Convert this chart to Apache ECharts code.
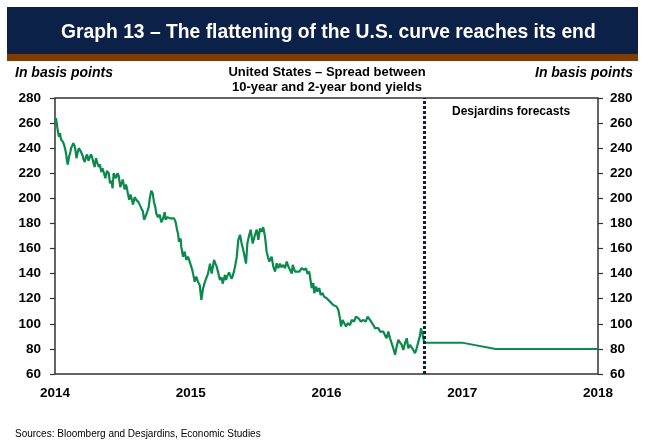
<!DOCTYPE html>
<html>
<head>
<meta charset="utf-8">
<script src="https://cdn.jsdelivr.net/npm/echarts@6/dist/echarts.min.js"></script>
<style>
  html, body { margin: 0; padding: 0; background: #fff; }
  #chart { width: 645px; height: 440px; }
</style>
</head>
<body>
<div id="chart"></div>
<script>
// US 10-year minus 2-year Treasury spread, basis points (time as decimal year)
const spreadYears = [
  2014.000, 2014.007, 2014.015, 2014.022, 2014.029, 2014.037, 2014.044, 2014.052, 2014.059, 2014.066,
  2014.074, 2014.081, 2014.088, 2014.094, 2014.103, 2014.113, 2014.118, 2014.125, 2014.135, 2014.144,
  2014.151, 2014.158, 2014.166, 2014.175, 2014.184, 2014.192, 2014.204, 2014.211, 2014.219, 2014.228,
  2014.236, 2014.247, 2014.253, 2014.265, 2014.273, 2014.284, 2014.292, 2014.302, 2014.313, 2014.322,
  2014.331, 2014.341, 2014.350, 2014.359, 2014.371, 2014.383, 2014.396, 2014.405, 2014.415, 2014.424,
  2014.432, 2014.442, 2014.449, 2014.460, 2014.469, 2014.481, 2014.490, 2014.499, 2014.508, 2014.513,
  2014.523, 2014.530, 2014.538, 2014.547, 2014.556, 2014.562, 2014.575, 2014.587, 2014.597, 2014.606,
  2014.615, 2014.624, 2014.636, 2014.648, 2014.656, 2014.665, 2014.680, 2014.690, 2014.698, 2014.709,
  2014.720, 2014.729, 2014.739, 2014.746, 2014.759, 2014.771, 2014.783, 2014.796, 2014.808, 2014.815,
  2014.827, 2014.838, 2014.852, 2014.864, 2014.877, 2014.889, 2014.899, 2014.906, 2014.913, 2014.926,
  2014.930, 2014.943, 2014.955, 2014.967, 2014.980, 2014.992, 2015.004, 2015.011, 2015.019, 2015.029,
  2015.041, 2015.053, 2015.066, 2015.078, 2015.090, 2015.103, 2015.117, 2015.127, 2015.142, 2015.154,
  2015.164, 2015.171, 2015.182, 2015.191, 2015.204, 2015.215, 2015.227, 2015.235, 2015.245, 2015.252,
  2015.260, 2015.269, 2015.282, 2015.289, 2015.300, 2015.309, 2015.319, 2015.326, 2015.339, 2015.350,
  2015.363, 2015.375, 2015.387, 2015.396, 2015.407, 2015.417, 2015.431, 2015.442, 2015.456, 2015.466,
  2015.473, 2015.486, 2015.498, 2015.510, 2015.523, 2015.534, 2015.547, 2015.559, 2015.569, 2015.579,
  2015.596, 2015.608, 2015.621, 2015.633, 2015.645, 2015.657, 2015.668, 2015.682, 2015.694, 2015.707,
  2015.719, 2015.731, 2015.744, 2015.751, 2015.761, 2015.768, 2015.780, 2015.800, 2015.817, 2015.834,
  2015.849, 2015.859, 2015.873, 2015.884, 2015.891, 2015.903, 2015.910, 2015.923, 2015.932, 2015.947,
  2015.957, 2015.972, 2015.982, 2016.001, 2016.013, 2016.026, 2016.038, 2016.050, 2016.063, 2016.075,
  2016.087, 2016.099, 2016.107, 2016.119, 2016.131, 2016.144, 2016.156, 2016.173, 2016.186, 2016.203,
  2016.217, 2016.234, 2016.247, 2016.254, 2016.271, 2016.289, 2016.303, 2016.313, 2016.320, 2016.333,
  2016.345, 2016.357, 2016.370, 2016.382, 2016.394, 2016.407, 2016.419, 2016.431, 2016.443, 2016.455,
  2016.468, 2016.480, 2016.492, 2016.505, 2016.517, 2016.529, 2016.541, 2016.554, 2016.566, 2016.578,
  2016.591, 2016.603, 2016.615, 2016.628, 2016.639, 2016.652, 2016.664, 2016.676, 2016.689, 2016.696,
  2016.709, 2016.718
];
const spreadValues = [
  262, 264, 258, 253, 249, 252, 247, 246, 245, 244,
  240, 236, 230, 227, 233, 237, 240, 241, 244, 242,
  238, 232, 236, 240, 241, 237, 234, 231, 229, 233,
  235, 230, 232, 235, 233, 228, 225, 232, 228, 225,
  227, 221, 224, 225, 216, 222, 220, 212, 214, 208,
  220, 218, 216, 220, 218, 209, 212, 215, 210, 207,
  211, 208, 203, 199, 203, 201, 195, 201, 199, 200,
  197, 196, 192, 189.5, 183, 185, 189.5, 193, 200, 206,
  204, 197, 193, 188, 185, 187, 181, 184, 189, 183,
  185, 184, 184, 183, 184, 181, 175, 172, 165.5, 168,
  161.5, 153.5, 157.5, 151, 153.5, 149.6, 151, 143, 139, 133.6,
  137.6, 133.6, 131, 119, 128, 133, 132, 140, 148, 140,
  146, 151, 148, 145.6, 140, 135, 137, 132, 136, 139,
  135, 138, 141, 140, 136, 138, 142, 145.6, 153.5, 167,
  171, 164, 158.6, 154, 148, 164, 171, 175, 164, 168,
  171, 175, 167, 176, 173.5, 177, 169.5, 157.5, 153, 149.6,
  153.5, 145.6, 141.6, 148.3, 144.3, 148, 145, 147, 144.3, 149.6,
  145.6, 143, 140, 147, 145.6, 141.6, 143, 141.6, 144.3, 143,
  144.3, 140, 141.6, 133.6, 128.4, 132.4, 124.4, 129.7, 125.7, 128.4,
  123, 124.4, 121.7, 120.4, 121.7, 117.7, 119, 115, 116.4, 113.7,
  111, 104.5, 97.8, 103.1, 100.5, 97.8, 100.5, 99, 103.1, 101.8,
  105.8, 104.5, 105.8, 101.8, 103.1, 101.8, 105.8, 107.1, 103.1, 101.8,
  99, 96.5, 95.1, 96.5, 93.8, 95.1, 93.8, 90.8, 88.5, 93.8,
  88.5, 84.5, 80.5, 75.4, 81.8, 87.2, 88.5, 83.2, 79.2, 84.5,
  88.5, 80.5, 83.2, 81.8, 79.2, 76.6, 80.5, 81.8, 90.8, 96.5,
  90.8, 85.8
];

// Desjardins quarterly forecasts
const forecastYears = [2016.723, 2016.997, 2017.246, 2017.496, 2017.748, 2018.000];
const forecastValues = [85, 85, 80, 80, 80, 80];

// Boundary between history and forecasts
const forecastStart = 2016.723;

const yearTicks = [2014, 2015, 2016, 2017, 2018];
const yTicks = [60, 80, 100, 120, 140, 160, 180, 200, 220, 240, 260, 280];

const FONT = '"Liberation Sans", Arial, sans-serif';
const GREEN = '#0a8a4c';
const NAVY = '#0b2148';

const zip = (xs, ys) => xs.map((x, i) => [x, ys[i]]);

const yAxisCommon = {
  type: 'value',
  min: yTicks[0],
  max: yTicks[yTicks.length - 1],
  interval: yTicks[1] - yTicks[0],
  axisLine: { show: false },
  axisTick: { show: true, inside: false, length: 5, lineStyle: { color: '#333', width: 1.2 } },
  splitLine: { show: false },
  axisLabel: { color: '#000', fontFamily: FONT, fontWeight: 'bold', fontSize: 13.5, margin: 14 }
};

const chart = echarts.init(document.getElementById('chart'), null, { renderer: 'canvas' });

chart.setOption({
  animation: false,
  backgroundColor: '#fff',
  graphic: [
    { type: 'rect', shape: { x: 7, y: 7, width: 631, height: 47 }, style: { fill: NAVY } },
    { type: 'rect', shape: { x: 7, y: 54, width: 631, height: 7 }, style: { fill: '#7e3c06' } },
    {
      type: 'text', left: 61, top: 23,
      style: { text: 'Graph 13 – The flattening of the U.S. curve reaches its end', fill: '#fff',
               font: 'bold 19.3px ' + FONT }
    },
    {
      type: 'text', left: 15, top: 66,
      style: { text: 'In basis points', fill: '#000', font: 'italic bold 14px ' + FONT }
    },
    {
      type: 'text', right: 12, top: 66,
      style: { text: 'In basis points', fill: '#000', font: 'italic bold 14px ' + FONT }
    },
    {
      type: 'text', x: 327, y: 66,
      style: { text: 'United States – Spread between', fill: '#000',
               font: 'bold 13px ' + FONT, align: 'center', verticalAlign: 'top' }
    },
    {
      type: 'text', x: 327, y: 81,
      style: { text: '10-year and 2-year bond yields', fill: '#000',
               font: 'bold 13px ' + FONT, align: 'center', verticalAlign: 'top' }
    },
    {
      type: 'text', left: 452, top: 106,
      style: { text: 'Desjardins forecasts', fill: '#000', font: 'bold 12px ' + FONT }
    },
    {
      type: 'text', left: 15, top: 429,
      style: { text: 'Sources: Bloomberg and Desjardins, Economic Studies', fill: '#000', font: '10px ' + FONT }
    }
  ],
  grid: {
    left: 55, right: 47, top: 98, bottom: 66,
    show: true, borderColor: '#333', borderWidth: 1.5, backgroundColor: 'transparent'
  },
  xAxis: {
    type: 'value',
    min: yearTicks[0],
    max: yearTicks[yearTicks.length - 1],
    interval: 1,
    axisLine: { show: false },
    axisTick: { show: false },
    splitLine: { show: false },
    axisLabel: {
      color: '#000', fontFamily: FONT, fontWeight: 'bold', fontSize: 13.5, margin: 12,
      formatter: v => String(Math.round(v))
    }
  },
  yAxis: [
    Object.assign({ position: 'left' }, yAxisCommon),
    Object.assign({ position: 'right' }, yAxisCommon, { axisLabel: Object.assign({}, yAxisCommon.axisLabel, { margin: 12 }) })
  ],
  series: [
    {
      name: 'Spread',
      type: 'line',
      data: zip(spreadYears, spreadValues),
      showSymbol: false,
      lineStyle: { color: GREEN, width: 2.2 },
      z: 3,
      markLine: {
        silent: true,
        symbol: 'none',
        label: { show: false },
        lineStyle: { color: NAVY, width: 3, type: [3, 2], cap: 'butt' },
        data: [{ xAxis: forecastStart }]
      }
    },
    {
      name: 'Forecasts',
      type: 'line',
      data: zip(forecastYears, forecastValues),
      showSymbol: false,
      lineStyle: { color: GREEN, width: 2 },
      z: 3
    }
  ]
});
</script>
</body>
</html>
